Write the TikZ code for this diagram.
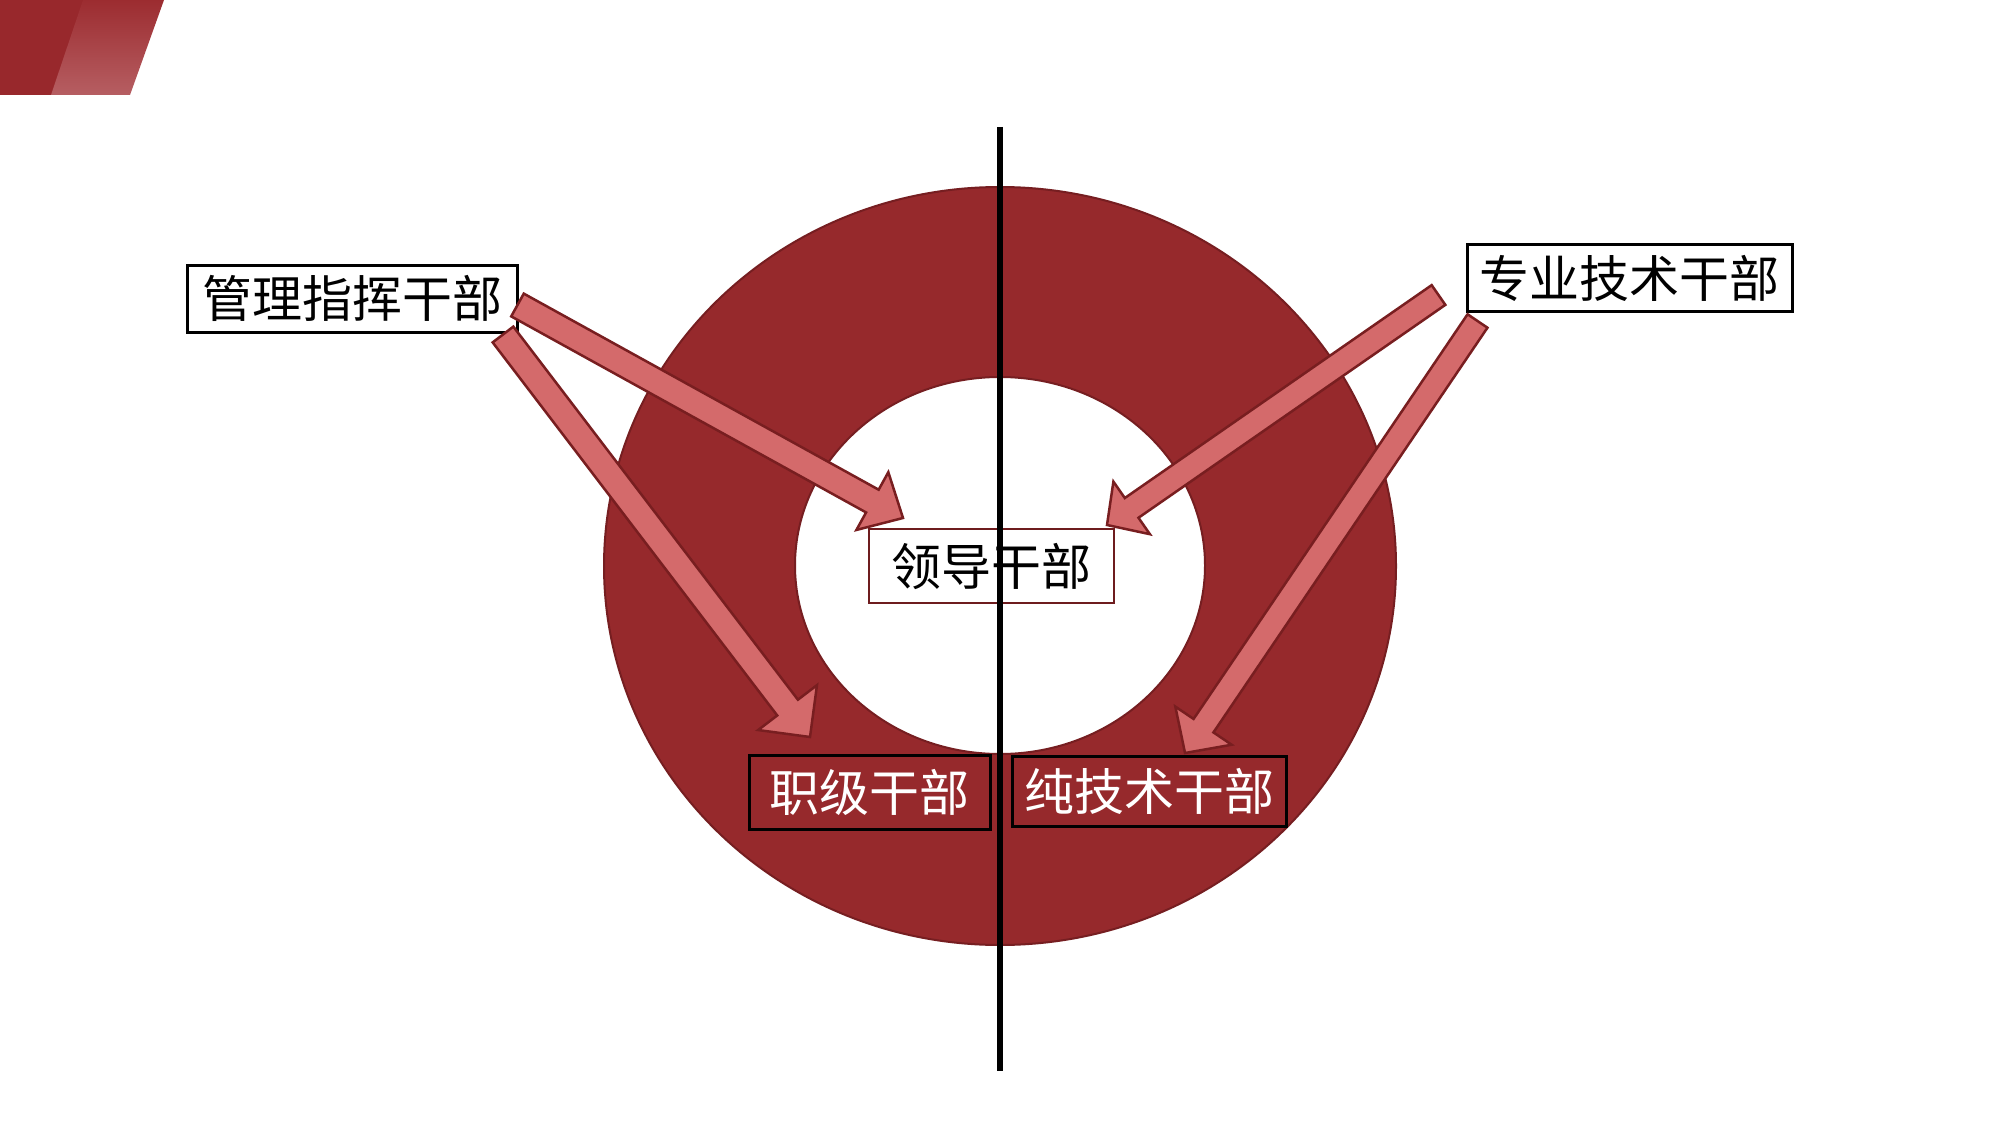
\documentclass[tikz,border=0pt]{standalone}
\usepackage{fontspec}
\setmainfont{Noto Sans CJK SC}
\usetikzlibrary{calc}
\definecolor{ringred}{RGB}{150,41,44}
\definecolor{ringedge}{RGB}{118,30,33}
\definecolor{arrfill}{RGB}{212,106,107}
\definecolor{arredge}{RGB}{120,30,32}
\definecolor{leadedge}{RGB}{110,28,30}
\definecolor{cornerdark}{RGB}{152,40,44}
\definecolor{cornertop}{RGB}{156,44,48}
\definecolor{cornerbot}{RGB}{182,94,98}
\newcommand{\blkarrow}[5]{%
  \coordinate (hb) at ($(#2)!#5!(#1)$);
  \draw[blockarr] ($(#1)!#3!90:(#2)$) -- ($(hb)!#3!90:(#2)$) -- ($(hb)!#4!90:(#2)$) -- (#2)
     -- ($(hb)!#4!-90:(#2)$) -- ($(hb)!#3!-90:(#2)$) -- ($(#1)!#3!-90:(#2)$) -- cycle;}
\tikzset{
  blockarr/.style={fill=arrfill, draw=arredge, line width=2.5pt, line join=miter},
  labelbox/.style={draw=black, line width=3pt, fill=white, inner sep=0pt, text=black,
     font=\fontsize{50pt}{60pt}\selectfont},
  leadbox/.style={labelbox, draw=leadedge, line width=2.7pt},
  darkbox/.style={labelbox, fill=ringred, text=white},
  axisline/.style={draw=black, line width=6pt}
}
\begin{document}
\begin{tikzpicture}[x=1pt,y=-1pt]
\useasboundingbox (0,0) rectangle (2000,1126);
\fill[white] (0,0) rectangle (2000,1126);
% corner decoration
\fill[cornerdark] (0,0) -- (84,0) -- (52,95) -- (0,95) -- cycle;
\shade[top color=cornertop, bottom color=cornerbot] (83,0) -- (164,0) -- (130,95) -- (51,95) -- cycle;
% ring
\filldraw[ringred, draw=ringedge, line width=2pt, even odd rule]
  (1000,566) ellipse [x radius=396pt, y radius=379pt]
  (1000,565.5) ellipse [x radius=205pt, y radius=188.5pt];
% label boxes (top)
\node[labelbox, minimum width=330pt, minimum height=67pt] (mgmt) at (352,298.5) {管理指挥干部};
\node[labelbox, minimum width=325pt, minimum height=66pt] (prof) at (1629.5,278) {专业技术干部};
% arrow end points
\coordinate (a1t) at (517.5,305);  \coordinate (a1h) at (903,518);
\coordinate (a2t) at (503,334.5);  \coordinate (a2h) at (810,737);
\coordinate (a3t) at (1438.5,295); \coordinate (a3h) at (1107,525);
\coordinate (a4t) at (1477.5,321); \coordinate (a4h) at (1185,753);
\blkarrow{a1t}{a1h}{13pt}{33pt}{35pt}
\blkarrow{a2t}{a2h}{13pt}{37pt}{37pt}
\blkarrow{a3t}{a3h}{12pt}{32pt}{30pt}
\blkarrow{a4t}{a4h}{12pt}{34pt}{33pt}
% target boxes
\node[leadbox, minimum width=245pt, minimum height=74pt] (lead) at (991.5,566) {领导干部};
\node[darkbox, minimum width=241pt, minimum height=74pt] (rank) at (869.5,792) {职级干部};
\node[darkbox, minimum width=274pt, minimum height=70pt] (tech) at (1149,791) {纯技术干部};
% vertical axis
\coordinate (ltop) at (1000,127);
\coordinate (lbot) at (1000,1071);
\draw[axisline] (ltop) -- (lbot);
\end{tikzpicture}
\end{document}
